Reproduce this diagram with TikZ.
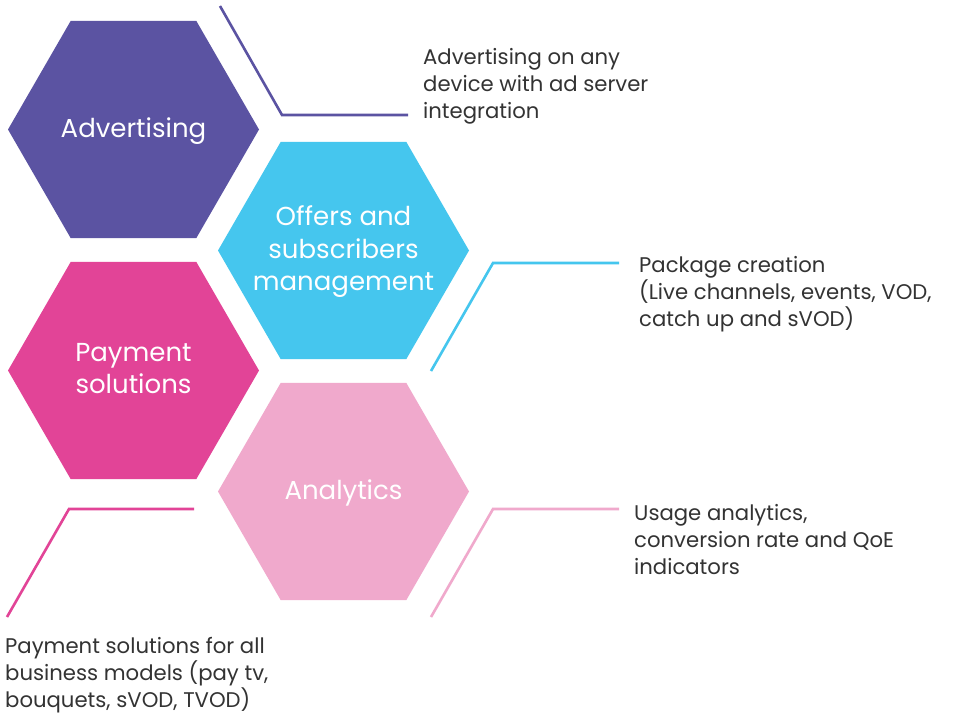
\documentclass[tikz,border=0pt]{standalone}
\usepackage{fontspec}
\setmainfont{Poppins}
\usetikzlibrary{shapes.geometric}
\definecolor{cpurple}{HTML}{5B53A2}
\definecolor{ccyan}{HTML}{45C6EE}
\definecolor{cmagenta}{HTML}{E24497}
\definecolor{cpink}{HTML}{F0A9CC}
\definecolor{ctext}{HTML}{333333}
\tikzset{
  hexa/.style={regular polygon, regular polygon sides=6, minimum size=251pt, inner sep=0pt, draw=none},
  hextext/.style={text=white, align=center, inner sep=0pt, font=\fontsize{26}{32.5}\selectfont},
  desc/.style={text=ctext, align=left, inner sep=0pt, anchor=base west, font=\fontsize{21.2}{26.8}\selectfont},
  leader/.style={line width=2.6pt}
}
\begin{document}
\begin{tikzpicture}[x=1pt,y=-1pt]
\useasboundingbox (0,0) rectangle (960,713);
\fill[white] (0,0) rectangle (960,713);
% hexagons
\node[hexa, fill=cpurple] (adv) at (133.5,129.5) {};
\node[hexa, fill=ccyan] (off) at (343.5,250.5) {};
\node[hexa, fill=cmagenta] (pay) at (133.5,370.5) {};
\node[hexa, fill=cpink] (ana) at (343.5,491.5) {};
\node[hextext] (advt) at (133.5,131) {Advertising};
\node[hextext] (offt) at (343.5,252) {Offers and\\subscribers\\management};
\node[hextext] (payt) at (133.5,368.5) {Payment\\solutions};
\node[hextext] (anat) at (343.5,493) {Analytics};
% leader lines
\coordinate (a1) at (220,6);
\coordinate (a2) at (282,115);
\coordinate (a3) at (408,115);
\draw[leader, cpurple] (a1) -- (a2) -- (a3);
\coordinate (o1) at (431,371);
\coordinate (o2) at (493,263);
\coordinate (o3) at (619,263);
\draw[leader, ccyan] (o1) -- (o2) -- (o3);
\coordinate (n1) at (431,617);
\coordinate (n2) at (493,509);
\coordinate (n3) at (619,509);
\draw[leader, cpink] (n1) -- (n2) -- (n3);
\coordinate (p1) at (7,617);
\coordinate (p2) at (69,509);
\coordinate (p3) at (194,509);
\draw[leader, cmagenta] (p1) -- (p2) -- (p3);
% descriptions (anchored at the baseline of the last line)
\node[desc] (advd) at (423,118.5) {Advertising on any\\device with ad server\\integration};
\node[desc] (offd) at (639,326) {Package creation\\(Live channels, events, VOD,\\catch up and sVOD)};
\node[desc] (anad) at (634,574.5) {Usage analytics,\\conversion rate and QoE\\indicators};
\node[desc] (payd) at (5,707) {Payment solutions for all\\business models (pay tv,\\bouquets, sVOD, TVOD)};
\end{tikzpicture}
\end{document}
